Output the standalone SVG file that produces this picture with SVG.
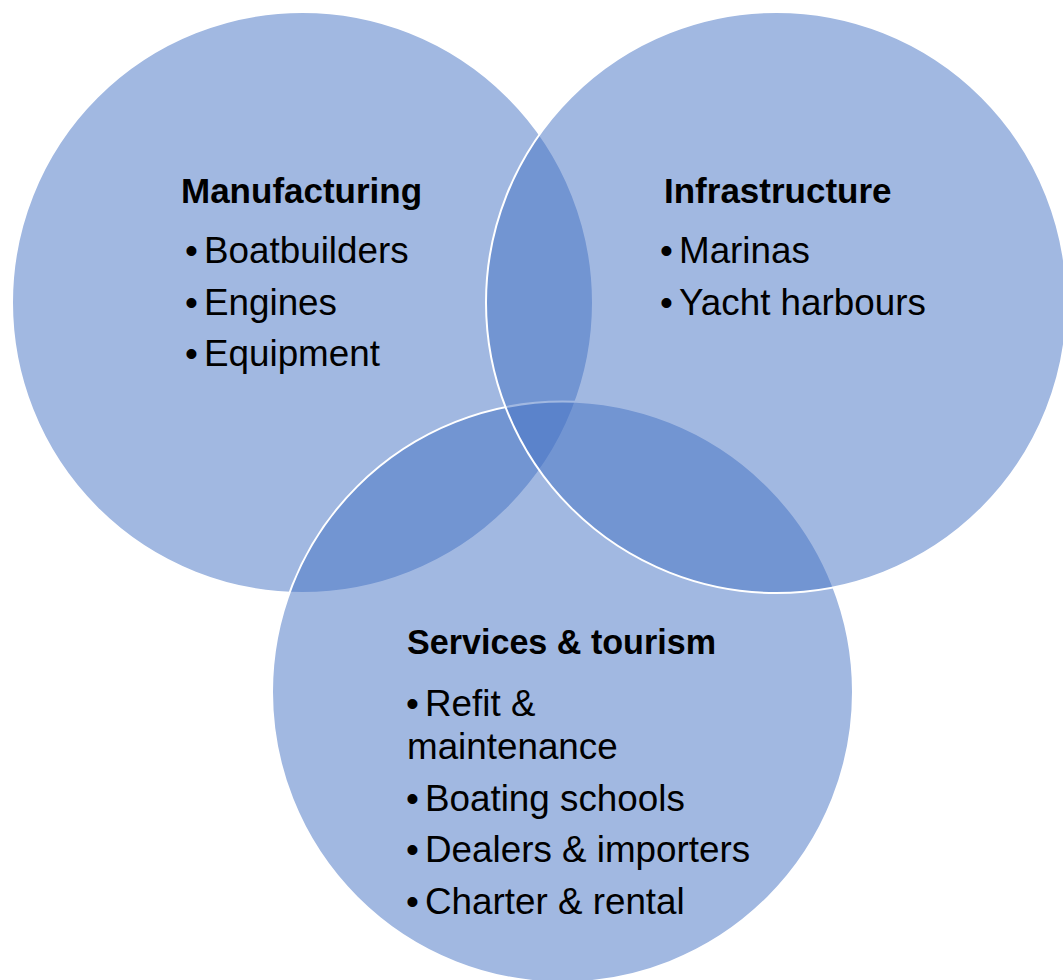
<svg xmlns="http://www.w3.org/2000/svg" width="1063" height="980" viewBox="0 0 1063 980">
<style>
.c{fill:#4472C4;fill-opacity:0.5;stroke:#FFFFFF;stroke-width:2}
.t{font-family:"Liberation Sans",Arial,sans-serif;fill:#000000}
.h{font-size:35px;font-weight:bold}
.b{font-size:36.8px}
</style>
<rect width="1063" height="980" fill="#FFFFFF"/>
<g id="manufacturing">
<circle class="c" cx="302.5" cy="302.5" r="290.5"/>
<text class="t h" x="181" y="203">Manufacturing</text>
<text class="t b" y="263"><tspan x="185">•</tspan><tspan x="204">Boatbuilders</tspan></text>
<text class="t b" y="314.5"><tspan x="185">•</tspan><tspan x="204">Engines</tspan></text>
<text class="t b" y="366"><tspan x="185">•</tspan><tspan x="204">Equipment</tspan></text>
</g>
<g id="services-tourism">
<circle class="c" cx="562.5" cy="692" r="290.5"/>
<text class="t h" x="407" y="654" textLength="309" lengthAdjust="spacingAndGlyphs">Services &amp; tourism</text>
<text class="t b" y="716"><tspan x="406">•</tspan><tspan x="425">Refit &amp;</tspan></text>
<text class="t b" x="407" y="759">maintenance</text>
<text class="t b" y="810.5"><tspan x="406">•</tspan><tspan x="425">Boating schools</tspan></text>
<text class="t b" y="862"><tspan x="406">•</tspan><tspan x="425">Dealers &amp; importers</tspan></text>
<text class="t b" y="913.5"><tspan x="406">•</tspan><tspan x="425">Charter &amp; rental</tspan></text>
</g>
<g id="infrastructure">
<circle class="c" cx="776.5" cy="302.5" r="290.5"/>
<text class="t h" x="664" y="203">Infrastructure</text>
<text class="t b" y="263"><tspan x="660">•</tspan><tspan x="679">Marinas</tspan></text>
<text class="t b" y="314.5"><tspan x="660">•</tspan><tspan x="679">Yacht harbours</tspan></text>
</g>
<g id="connectors"></g>
</svg>
